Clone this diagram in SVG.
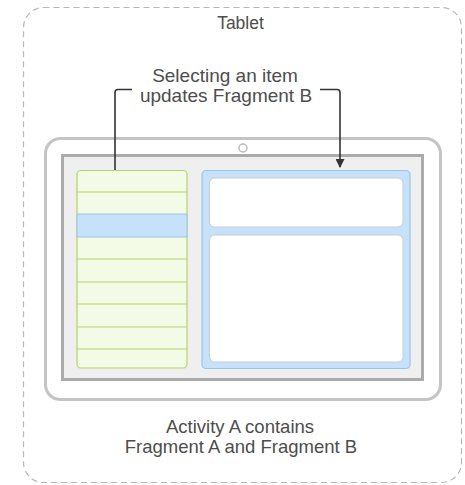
<svg xmlns="http://www.w3.org/2000/svg" width="465" height="485" viewBox="0 0 465 485">
<defs>
<style>
text{font-family:"Liberation Sans",Arial,sans-serif;fill:#4d4d4d;text-anchor:middle}
.row{stroke:#b3d36b;stroke-width:1.2}
.conn{fill:none;stroke:#333;stroke-width:1.6}
</style>
<marker id="ah" viewBox="0 0 10 10" refX="9" refY="5" markerWidth="11" markerHeight="9" orient="auto" markerUnits="userSpaceOnUse">
<path d="M0,0 L10,5 L0,10 z" fill="#333"/>
</marker>
</defs>
<rect width="465" height="485" fill="#fff"/>
<g id="tablet-frame">
<rect x="23.5" y="7.5" width="438" height="475" rx="20" fill="none" stroke="#b8b8b8" stroke-width="1.2" stroke-dasharray="6,4"/>
<text x="240.5" y="29" font-size="17.5" fill="#5a5a5a">Tablet</text>
</g>
<g id="device">
<rect x="45.5" y="138.5" width="395" height="261" rx="15" fill="#fff" stroke="#c4c4c4" stroke-width="3"/>
<rect x="62.5" y="155.5" width="360" height="224" fill="#efefef" stroke="#ababab" stroke-width="3"/>
<circle cx="243" cy="148" r="4" fill="#fff" stroke="#bcbcbc" stroke-width="1.5"/>
</g>
<g id="fragment-a">
<rect x="77" y="170.5" width="110" height="197.5" rx="4" fill="#f3fbe6" stroke="#b3d36b" stroke-width="1.2"/>
<rect x="77" y="214" width="110" height="23" fill="#c6e2fa" stroke="#9cc3e6" stroke-width="1"/>
<line class="row" x1="77" y1="192" x2="187" y2="192"/>
<line class="row" x1="77" y1="259" x2="187" y2="259"/>
<line class="row" x1="77" y1="282" x2="187" y2="282"/>
<line class="row" x1="77" y1="304" x2="187" y2="304"/>
<line class="row" x1="77" y1="327" x2="187" y2="327"/>
<line class="row" x1="77" y1="349" x2="187" y2="349"/>
</g>
<g id="fragment-b">
<rect x="202" y="170.5" width="208" height="198" rx="4" fill="#c6e2fa" stroke="#9cc3e6" stroke-width="1.2"/>
<rect x="209.5" y="178" width="193.5" height="49" rx="5" fill="#fff" stroke="#c8ccd0" stroke-width="1"/>
<rect x="209.5" y="235" width="193.5" height="127" rx="5" fill="#fff" stroke="#c8ccd0" stroke-width="1"/>
</g>
<g id="label-update">
<text x="225" y="82" font-size="19">Selecting an item</text>
<text x="226" y="102" font-size="19">updates Fragment B</text>
</g>
<g id="connectors">
<path class="conn" d="M132,89.5 H118 Q115,89.5 115,92.5 V170"/>
<path class="conn" d="M320,89.5 H337 Q340,89.5 340,92.5 V167" marker-end="url(#ah)"/>
</g>
<g id="label-activity">
<text x="240" y="433" font-size="18.5">Activity A contains</text>
<text x="241" y="453" font-size="18.5">Fragment A and Fragment B</text>
</g>
</svg>
